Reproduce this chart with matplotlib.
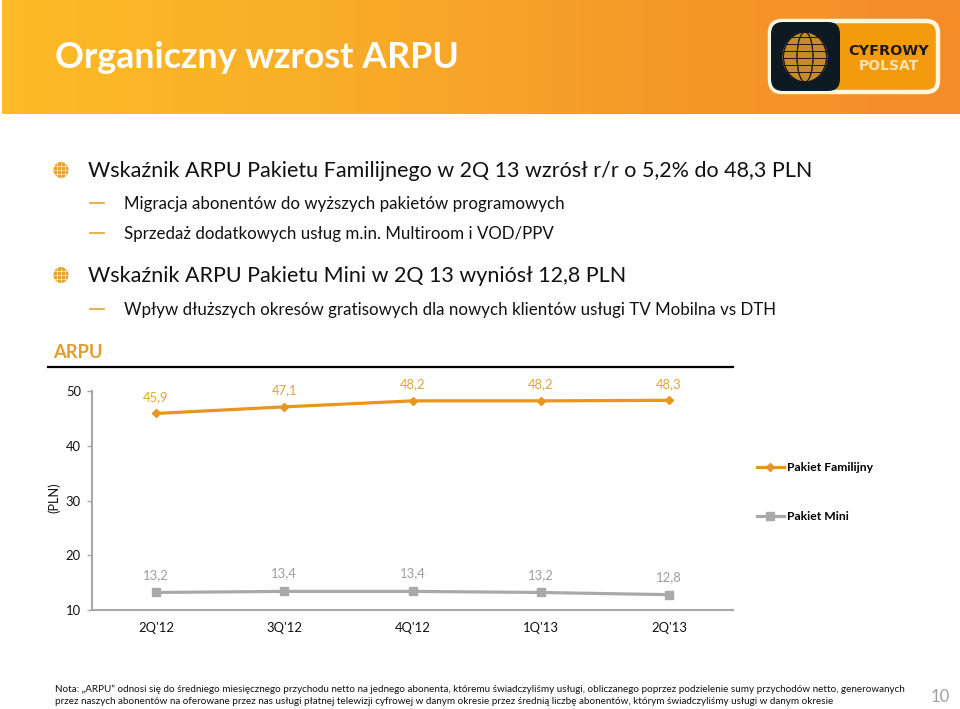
import numpy as np
import matplotlib
matplotlib.use('Agg')
import matplotlib.pyplot as plt
from matplotlib.colors import LinearSegmentedColormap
from matplotlib.patches import FancyBboxPatch, Ellipse

plt.rcParams['font.family'] = ['Lato', 'DejaVu Sans']

quarters = ["2Q'12", "3Q'12", "4Q'12", "1Q'13", "2Q'13"]
familijny = [45.9, 47.1, 48.2, 48.2, 48.3]
mini = [13.2, 13.4, 13.4, 13.2, 12.8]
fam_labels = ['45,9', '47,1', '48,2', '48,2', '48,3']
mini_labels = ['13,2', '13,4', '13,4', '13,2', '12,8']
yticks = [10, 20, 30, 40, 50]

ORANGE = '#E8961E'
GOLD = '#DDA63A'
GREY = '#A9A9A9'
W, H = 960, 709

fig = plt.figure(figsize=(9.6, 7.09), dpi=100, facecolor='white')
bg = fig.add_axes([0, 0, 1, 1])
bg.axis('off')

# header
cmap = LinearSegmentedColormap.from_list('h', ['#FDBB26', '#F9AE28', '#F59A28', '#F48C28'])
bg.imshow(np.linspace(0, 1, 256)[None, :], cmap=cmap, extent=(2, W, 114, 0), aspect='auto', zorder=0)
bg.set_xlim(0, W)
bg.set_ylim(H, 0)
bg.text(55, 57, 'Organiczny wzrost ARPU', color='white', fontsize=25.8, fontweight='bold',
        va='center', ha='left')

# logo
bg.add_patch(FancyBboxPatch((770, 21), 168, 71, boxstyle='round,pad=0,rounding_size=12',
                            fc='#F39A0E', ec='#FFF6E0', lw=3.2, zorder=2))
bg.add_patch(FancyBboxPatch((771, 22), 69, 69, boxstyle='round,pad=0,rounding_size=12',
                            fc='#0E1A22', ec='none', zorder=3))
bg.add_patch(Ellipse((805, 57), 45, 50, fc='#C98A2A', ec='none', zorder=4))
for dx in (-14, -5, 5, 14):
    bg.add_patch(Ellipse((805, 57), abs(dx) * 3 + 1, 50, fc='none', ec='#1A1A1A', lw=0.7, zorder=5))
for yy in range(37, 79, 7):
    half = 22 * np.sqrt(max(0, 1 - ((yy - 57) / 25) ** 2))
    bg.plot([805 - half, 805 + half], [yy, yy], color='#1A1A1A', lw=0.7, zorder=5)
bg.text(889, 51, 'CYFROWY', color='#1B1B1B', fontsize=10.4, fontweight='bold', ha='center', va='center',
        family='DejaVu Sans', zorder=6)
bg.text(889, 66, 'POLSAT', color='#FBE3B0', fontsize=10, fontweight='bold', ha='center', va='center',
        family='DejaVu Sans', zorder=6)

# bullets
def globe(x, y):
    bg.add_patch(Ellipse((x, y), 15, 16, fc='#E5A02E', ec='none', zorder=2))
    for d in (-4, 0, 4):
        bg.plot([x - 7, x + 7], [y + d, y + d], color='#FBE6BE', lw=0.6, zorder=3)
        bg.plot([x + d, x + d], [y - 7, y + 7], color='#FBE6BE', lw=0.6, zorder=3)

def dash(y):
    bg.plot([90, 104], [y, y], color='#E5A841', lw=1.3, zorder=2)

main_items = [(170, 'Wskaźnik ARPU Pakietu Familijnego w 2Q 13 wzrósł r/r o 5,2% do 48,3 PLN'),
              (275, 'Wskaźnik ARPU Pakietu Mini w 2Q 13 wyniósł 12,8 PLN')]
sub_items = [(203, 'Migracja abonentów do wyższych pakietów programowych'),
             (233, 'Sprzedaż dodatkowych usług m.in. Multiroom i VOD/PPV'),
             (309, 'Wpływ dłuższych okresów gratisowych dla nowych klientów usługi TV Mobilna vs DTH')]
for y, t in main_items:
    globe(61, y)
    bg.text(88, y + 1, t, color='#111111', fontsize=15.5, va='center', ha='left')
for y, t in sub_items:
    dash(y)
    bg.text(124, y + 1, t, color='#111111', fontsize=12.15, va='center', ha='left')

bg.text(53, 352, 'ARPU', color='#E29E2C', fontsize=13.2, fontweight='bold', va='center', ha='left')
bg.plot([48, 733], [367, 367], color='black', lw=1.6)

# chart
ax = fig.add_axes([92 / W, (H - 610) / H, 641 / W, 219 / H])
ax.patch.set_alpha(0)
x = np.arange(len(quarters))
ax.plot(x, familijny, color=ORANGE, lw=2.3, marker='D', ms=4.5, label='Pakiet Familijny', clip_on=False)
ax.plot(x, mini, color=GREY, lw=2.3, marker='s', ms=5.5, label='Pakiet Mini', clip_on=False)
ax.set_xlim(-0.5, 4.5)
ax.set_ylim(10, 50)
ax.set_xticks(x, quarters)
ax.set_yticks(yticks)
ax.tick_params(axis='x', length=0, pad=9, labelsize=9.4, labelcolor='#111111')
ax.tick_params(axis='y', length=3.5, width=1, color=GREY, pad=4.5, labelsize=9.4, labelcolor='#111111')
for s in ('top', 'right'):
    ax.spines[s].set_visible(False)
for s in ('left', 'bottom'):
    ax.spines[s].set_color('#A8A8A8')
    ax.spines[s].set_linewidth(1.5)
ax.set_ylabel('(PLN)', fontsize=9.2, color='#111111')
ax.yaxis.set_label_coords((60 - 92) / 641, (610 - 498) / 219)
for xi, v, l in zip(x, familijny, fam_labels):
    ax.annotate(l, (xi, v), xytext=(0, 7.5), textcoords='offset points', ha='center', va='bottom',
                color=GOLD, fontsize=9.4)
for xi, v, l in zip(x, mini, mini_labels):
    ax.annotate(l, (xi, v), xytext=(0, 8.5), textcoords='offset points', ha='center', va='bottom',
                color='#9E9E9E', fontsize=9.4)

handles, labels = ax.get_legend_handles_labels()
fig.legend(handles, labels, loc='center left', bbox_to_anchor=(757 / W, 1 - 492 / H), frameon=False,
           labelspacing=3.15, handlelength=2.2, handletextpad=0.25, borderpad=0,
           borderaxespad=0, prop={'weight': 'bold', 'size': 8.7})

# note
notes = [(689, 'Nota: „ARPU” odnosi się do średniego miesięcznego przychodu netto na jednego abonenta, któremu świadczyliśmy usługi, obliczanego poprzez podzielenie sumy przychodów netto, generowanych'),
         (702, 'przez naszych abonentów na oferowane przez nas usługi płatnej telewizji cyfrowej w danym okresie przez średnią liczbę abonentów, którym świadczyliśmy usługi w danym okresie')]
for y, t in notes:
    bg.text(55, y, t, color='#111111', fontsize=7.15, va='center', ha='left')
bg.text(940, 697, '10', color='#A0A0A0', fontsize=12, ha='center', va='center')

fig.savefig('out.png', dpi=100)
